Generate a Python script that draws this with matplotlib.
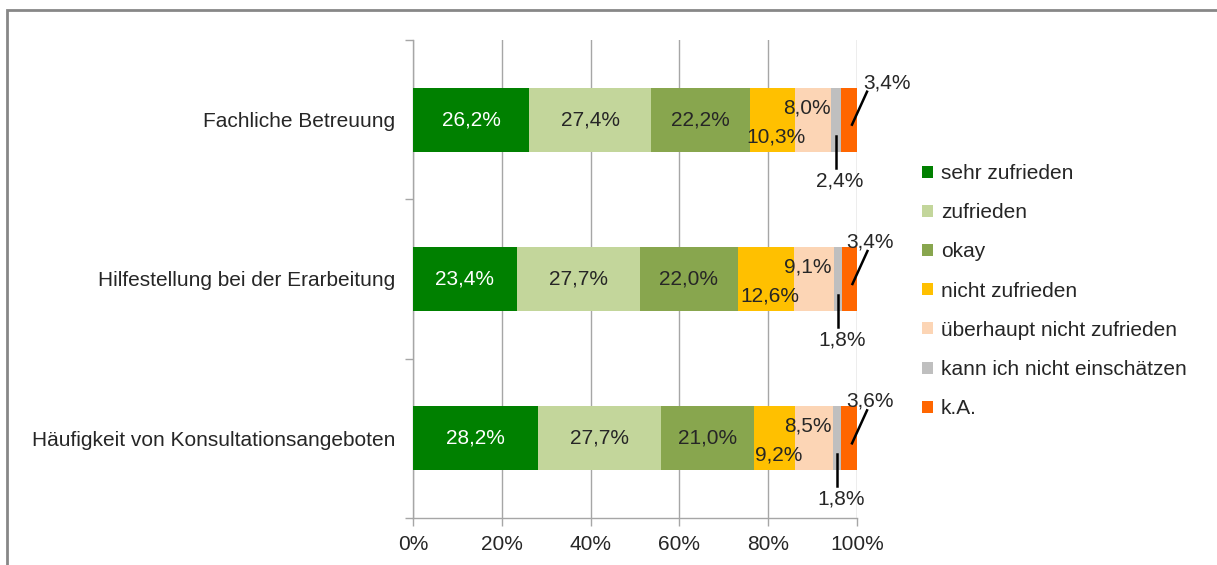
import matplotlib.pyplot as plt
from matplotlib.patches import Patch, Rectangle

plt.rcParams['font.family'] = ['Liberation Sans', 'DejaVu Sans']

# Data
categories = ["Fachliche Betreuung", "Hilfestellung bei der Erarbeitung", "Häufigkeit von Konsultationsangeboten"]
series = ["sehr zufrieden", "zufrieden", "okay", "nicht zufrieden",
          "überhaupt nicht zufrieden", "kann ich nicht einschätzen", "k.A."]
sehr_zufrieden = [26.2, 23.4, 28.2]
zufrieden = [27.4, 27.7, 27.7]
okay = [22.2, 22.0, 21.0]
nicht_zufrieden = [10.3, 12.6, 9.2]
ueberhaupt_nicht = [8.0, 9.1, 8.5]
kann_nicht = [2.4, 1.8, 1.8]
keine_angabe = [3.4, 3.4, 3.6]
x_ticks = [0, 20, 40, 60, 80, 100]
x_ticklabels = ["0%", "20%", "40%", "60%", "80%", "100%"]

values = [sehr_zufrieden, zufrieden, okay, nicht_zufrieden, ueberhaupt_nicht, kann_nicht, keine_angabe]
colors = ["#008000", "#C3D69B", "#88A64E", "#FFC000", "#FCD5B5", "#BFBFBF", "#FF6600"]

fig = plt.figure(figsize=(12.17, 5.65), dpi=100)
ax = fig.add_axes([0.3394, 0.0832, 0.7042 - 0.3394, 0.9292 - 0.0832])

# outer frame of the chart area
fig.patches.append(Rectangle((0.0058, -0.05), 1.05, 0.05 + 0.9823, transform=fig.transFigure,
                             fill=False, edgecolor="#878787", linewidth=2))

FS = 15
grid_c = "#A6A6A6"
txt_c = "#262626"

ypos = list(range(len(categories)))
left = [0.0] * len(categories)
for vals, col, name in zip(values, colors, series):
    ax.barh(ypos, vals, left=left, height=0.40, color=col, label=name, zorder=3)
    left = [l + v for l, v in zip(left, vals)]

# conversion from pixel offsets to data offsets
px_x = 100 / 444.0
px_y = 1 / 159.5

def fmt(v):
    return f"{v:.1f}%".replace(".", ",")

# k.A. label positions (pixel offsets of label centre from bar end)
ka_label_dx = [30, 13, 13]
for i in ypos:
    cum = 0.0
    starts = []
    for vals in values:
        starts.append(cum)
        cum += vals[i]
    # inside labels
    for k in range(3):
        c = starts[k] + values[k][i] / 2
        ax.text(c, i, fmt(values[k][i]), ha="center", va="center", fontsize=FS,
                color="white" if k == 0 else txt_c, zorder=5)
    c = starts[3] + values[3][i] / 2
    ax.text(c + 4 * px_x, i + 17 * px_y, fmt(values[3][i]), ha="center", va="center",
            fontsize=FS, color=txt_c, zorder=5)
    c = starts[4] + values[4][i] / 2
    ax.text(c - 6 * px_x, i - 12 * px_y, fmt(values[4][i]), ha="center", va="center",
            fontsize=FS, color=txt_c, zorder=5)
    # kann ich nicht einschätzen: leader line downwards
    c = starts[5] + values[5][i] / 2
    ax.plot([c, c], [i + 16 * px_y, i + 48 * px_y], color="black", lw=1.8,
            zorder=6, clip_on=False)
    ax.text(c + 4 * px_x, i + 61 * px_y, fmt(values[5][i]), ha="center", va="center",
            fontsize=FS, color=txt_c, zorder=5, clip_on=False)
    # k.A.: leader line up-right
    c = starts[6] + values[6][i] / 2
    ax.plot([c + 3 * px_x, c + 18 * px_x], [i + 5 * px_y, i - 28 * px_y], color="black",
            lw=1.8, zorder=6, clip_on=False)
    ax.text(100 + ka_label_dx[i] * px_x, i - 37 * px_y, fmt(values[6][i]), ha="center",
            va="center", fontsize=FS, color=txt_c, zorder=5, clip_on=False)

ax.set_xlim(0, 100)
ax.set_ylim(2.5, -0.5)
ax.set_xticks(x_ticks)
ax.set_xticklabels(x_ticklabels, fontsize=FS, color=txt_c)
ax.set_yticks(ypos)
ax.set_yticklabels(categories, fontsize=FS, color=txt_c)
ax.set_yticks([-0.5, 0.5, 1.5, 2.5], minor=True)
ax.tick_params(axis="y", which="major", length=0, pad=13)
ax.tick_params(axis="y", which="minor", length=6, color=grid_c, width=1)
ax.tick_params(axis="x", length=6, color=grid_c, width=1, pad=6)

ax.xaxis.grid(True, color=grid_c, linewidth=1, zorder=0)
ax.set_axisbelow(True)
for s in ["top", "right"]:
    ax.spines[s].set_visible(False)
for s in ["left", "bottom"]:
    ax.spines[s].set_color(grid_c)
    ax.spines[s].set_linewidth(1)

handles = [Patch(facecolor=c, edgecolor="none") for c in colors]
fig.legend(handles, series, loc="upper left", bbox_to_anchor=(0.751, 0.7245),
           frameon=False, fontsize=FS, handlelength=0.5, handleheight=0.5,
           handletextpad=0.4, labelspacing=0.97, borderaxespad=0, labelcolor=txt_c)

fig.savefig("out.png", dpi=100)
